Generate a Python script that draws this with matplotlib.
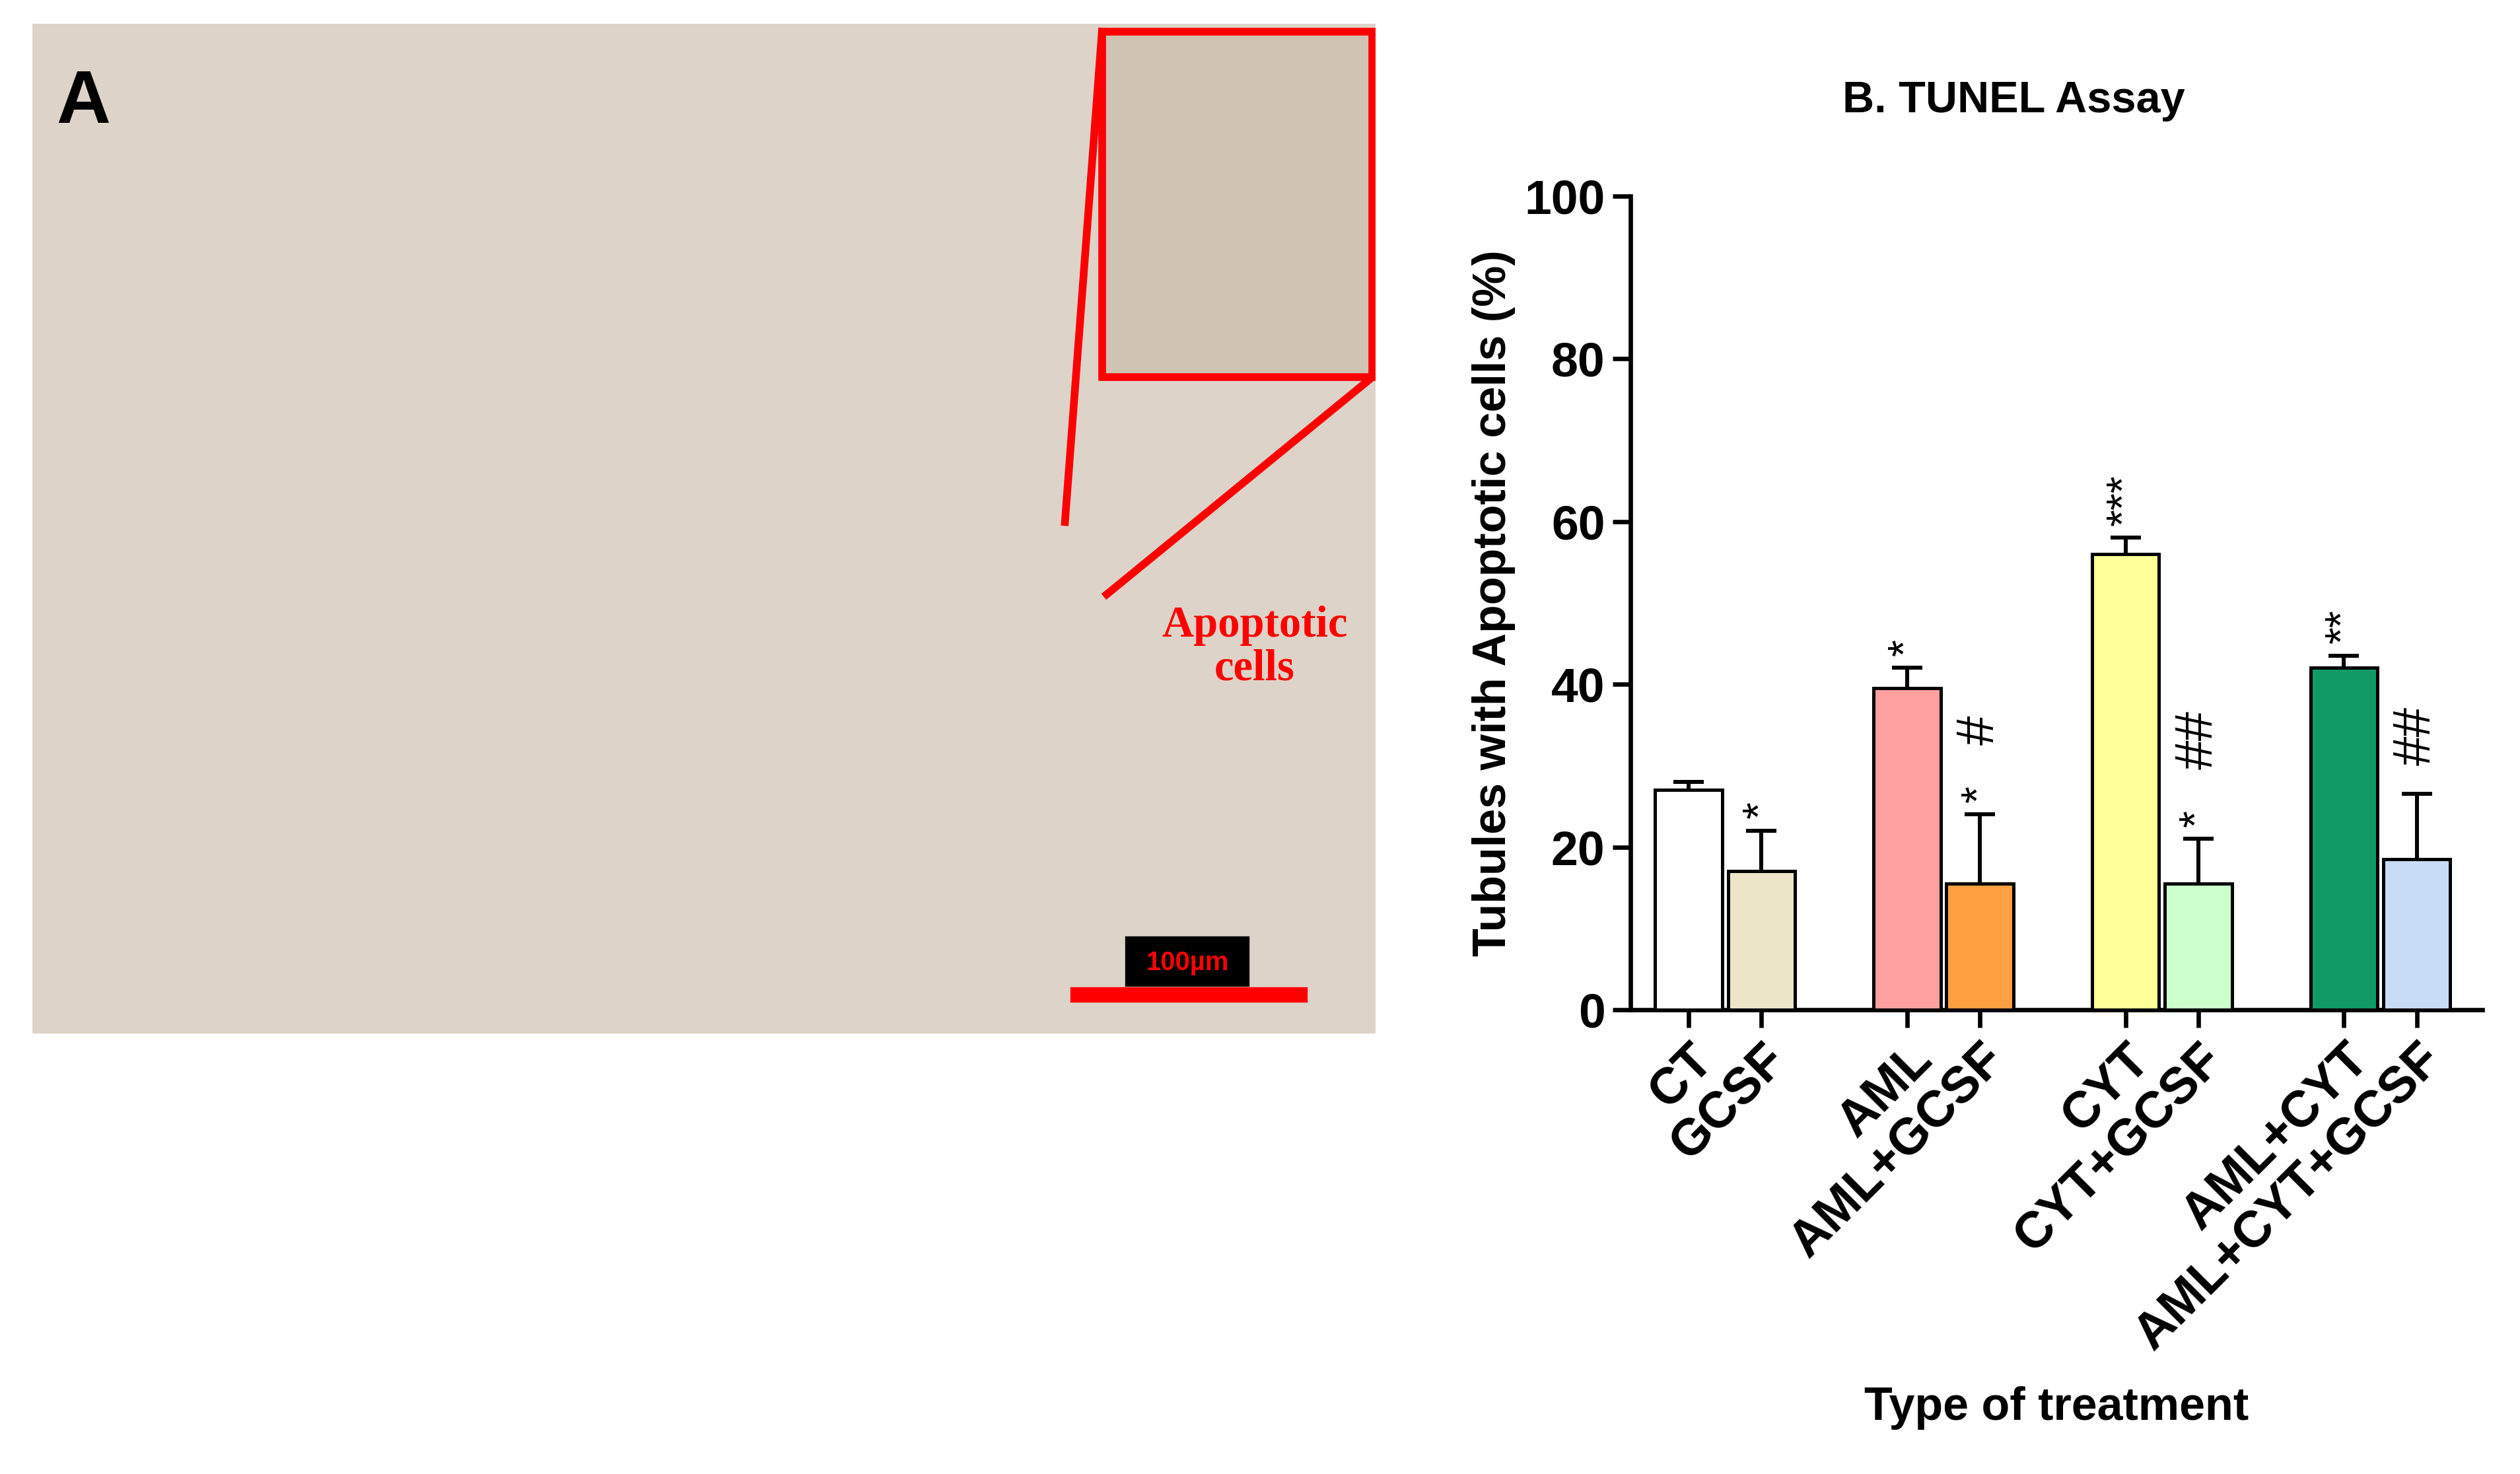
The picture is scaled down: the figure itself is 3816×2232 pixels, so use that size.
import matplotlib
matplotlib.use("Agg")
import matplotlib.pyplot as plt
from matplotlib.patches import Rectangle

plt.rcParams['font.family'] = ['Liberation Sans', 'DejaVu Sans']

categories = ["CT", "GCSF", "AML", "AML+GCSF", "CYT", "CYT+GCSF", "AML+CYT", "AML+CYT+GCSF"]
values = [27, 17, 39.5, 15.5, 56, 15.5, 42, 18.5]
errors = [1, 5, 2.5, 8.5, 2, 5.5, 1.5, 8]
colors = ["#FFFFFF", "#EDE5C8", "#FFA0A0", "#FFA040", "#FFFF99", "#CCFFCC", "#119966", "#C8DCF8"]
top_marks = ["", "*", "*", "", "***", "", "**", ""]
sig_marks = ["", "", "", "*", "", "*", "", ""]
hash_marks = ["", "", "", "#", "", "##", "", "##"]
positions = [0, 1, 3, 4, 6, 7, 9, 10]

fig = plt.figure(figsize=(15.9, 9.3), dpi=240)

# Panel A placeholder (micrograph)
axA = fig.add_axes([0.0128, 0.299, 0.533, 0.685])
axA.set_xlim(0, 835); axA.set_ylim(628, 0)
axA.add_patch(Rectangle((0, 0), 835, 628, color="#DDD3C8", zorder=0))
axA.axis("off")
axA.add_patch(Rectangle((665, 5), 168, 215, color="#CFC3B4", zorder=1))
axA.add_patch(Rectangle((665, 5), 168, 215, fill=False, ec="red", lw=3.5, zorder=2))
axA.plot([665, 642], [5, 310], color="red", lw=3.5)
axA.plot([833, 668], [220, 355], color="red", lw=3.5)
axA.text(760, 388, "Apoptotic\ncells", color="red", fontsize=20, fontweight="bold",
         family="Liberation Serif", ha="center", va="center", linespacing=1.1)
axA.plot([650, 788], [604, 604], color="red", lw=7)
axA.add_patch(Rectangle((680, 568), 76, 30, color="black"))
axA.text(718, 584, "100µm", color="red", fontsize=12, fontweight="bold", ha="center", va="center")
axA.text(15, 50, "A", fontsize=34, fontweight="bold", va="center")

# Panel B
ax = fig.add_axes([0.647, 0.315, 0.338, 0.552])
ax.bar(positions, values, width=0.92, color=colors, edgecolor="black", linewidth=1.5,
       yerr=errors, error_kw=dict(ecolor="black", elinewidth=1.8, capsize=7, capthick=1.8),
       zorder=2)
ax.bar(positions, values, width=0.92, color=colors, edgecolor="black", linewidth=1.5, zorder=3)
for p, v, e, t, s, h in zip(positions, values, errors, top_marks, sig_marks, hash_marks):
    y = v + e + 1.5
    if t:
        ax.text(p, y, t, rotation=90, ha="center", va="bottom", fontsize=20)
    if s:
        ax.text(p, y, s, rotation=90, ha="center", va="bottom", fontsize=20)
        y += 5
    if h:
        ax.text(p, y + 2, h, rotation=90, ha="center", va="bottom", fontsize=24)

ax.set_ylim(0, 100)
ax.set_xlim(-0.8, 10.9)
ax.set_yticks(range(0, 101, 20))
ax.tick_params(axis="y", labelsize=22, width=2, length=8)
for l in ax.get_yticklabels():
    l.set_fontweight("bold")
ax.set_xticks(positions)
ax.set_xticklabels(categories, rotation=45, ha="right", rotation_mode="anchor",
                   fontsize=23, fontweight="bold")
ax.tick_params(axis="x", width=2, length=8)
for sp in ["top", "right"]:
    ax.spines[sp].set_visible(False)
for sp in ["left", "bottom"]:
    ax.spines[sp].set_linewidth(2)
ax.set_ylabel("Tubules with Apoptotic cells (%)", fontsize=21, fontweight="bold")
ax.set_xlabel("Type of treatment", fontsize=21, fontweight="bold", labelpad=12)
ax.set_title("B. TUNEL Assay", fontsize=20, fontweight="bold", pad=38, x=0.45)

fig.savefig("out.png", dpi=240, facecolor="white")
